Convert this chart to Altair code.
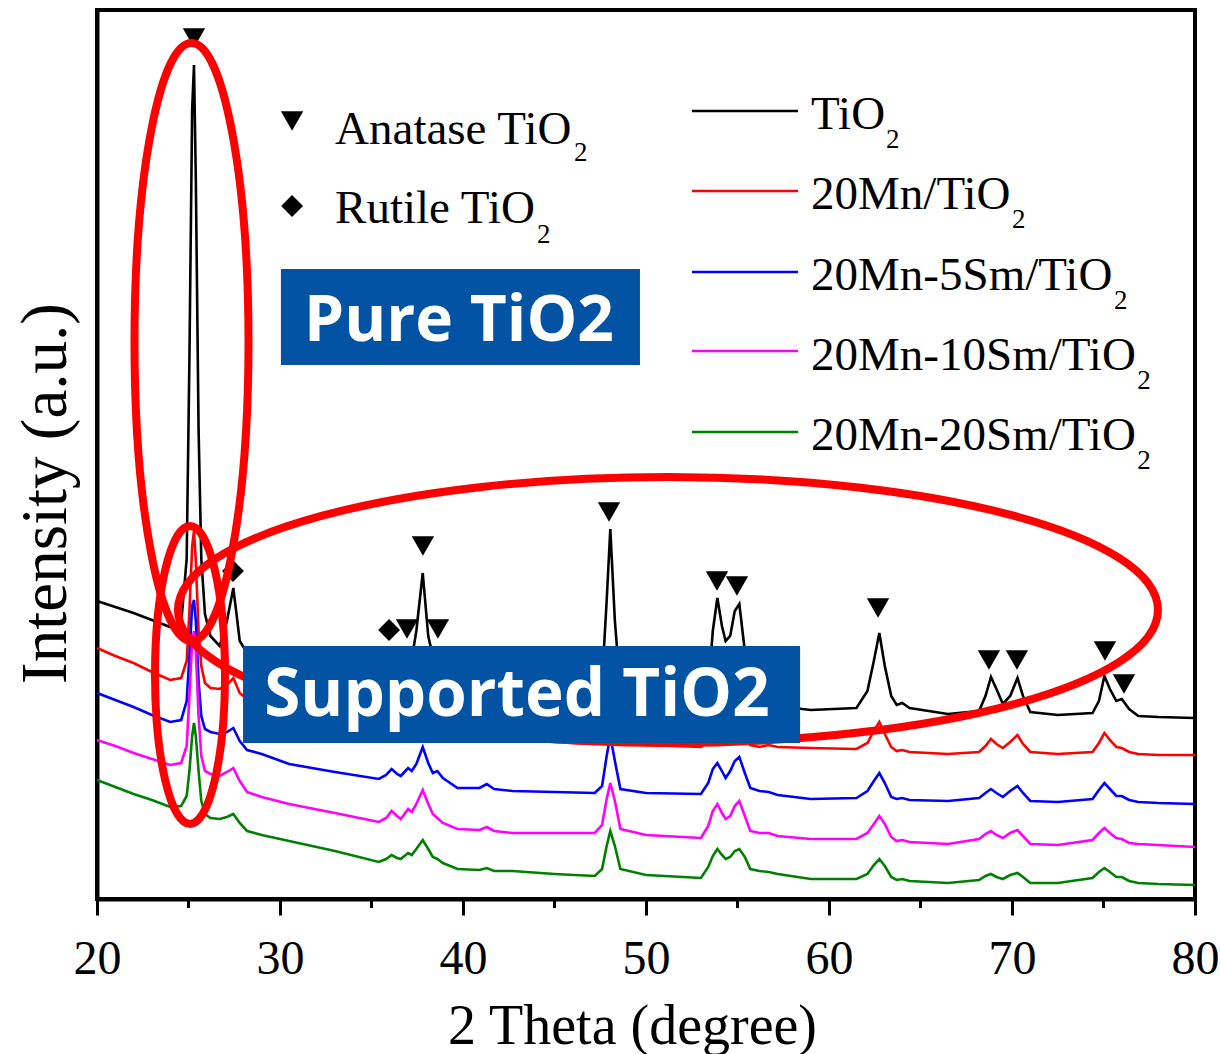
import altair as alt
import pandas as pd

# ---------------- data ----------------
two_theta = [20.0, 21.0, 22.0, 23.0, 24.0, 24.6, 24.9, 25.05, 25.2, 25.3,
             25.4, 25.55, 25.7, 25.9, 26.2, 26.7, 27.1, 27.45, 27.8, 28.2,
             29.0, 30.5, 33.0, 35.4, 35.8, 36.1, 36.4, 36.6, 36.8, 37.0,
             37.2, 37.45, 37.8, 38.1, 38.35, 38.6, 38.9, 39.7, 40.9, 41.3,
             41.7, 42.7, 45.0, 47.2, 47.6, 47.85, 48.05, 48.3, 48.6, 50.0,
             53.0, 53.4, 53.65, 53.9, 54.15, 54.35, 54.6, 54.85, 55.1, 55.4,
             55.7, 56.2, 56.7, 57.2, 59.0, 61.5, 62.1, 62.45, 62.75, 63.05,
             63.4, 63.7, 64.0, 64.4, 66.5, 68.2, 68.55, 68.85, 69.15, 69.5,
             69.9, 70.3, 70.6, 71.0, 72.5, 74.4, 74.75, 75.05, 75.35, 75.7,
             76.0, 76.4, 76.9, 78.0, 80.0]

i_tio2 = [298, 292, 286, 279, 272, 276, 340, 540, 790, 834,
          720, 470, 340, 285, 263, 253, 278, 311, 258, 246,
          241, 235, 230, 226, 230, 240, 233, 232, 238, 244,
          240, 268, 326, 263, 243, 248, 233, 220, 212, 215,
          211, 208, 205, 203, 218, 298, 370, 278, 208, 199,
          196, 208, 268, 301, 273, 258, 263, 288, 295, 248,
          203, 196, 198, 193, 189, 191, 208, 238, 266, 233,
          203, 194, 196, 191, 185, 188, 203, 222, 210, 195,
          203, 221, 203, 187, 184, 186, 198, 223, 210, 198,
          200, 190, 183, 182, 181]

i_20mn = [251, 243, 236, 227, 219, 221, 238, 288, 353, 368,
          338, 268, 233, 216, 211, 210, 214, 221, 206, 200,
          196, 190, 181, 173, 176, 180, 176, 175, 179, 182,
          179, 193, 216, 188, 176, 176, 172, 168, 164, 167,
          163, 160, 157, 155, 163, 193, 208, 180, 158, 154,
          152, 158, 168, 174, 168, 163, 167, 174, 176, 163,
          154, 152, 154, 152, 151, 150, 156, 168, 177, 165,
          152, 148, 149, 147, 145, 147, 153, 160, 155, 151,
          157, 164, 155, 147, 145, 147, 156, 166, 159, 152,
          151, 147, 145, 144, 144]

i_5sm = [206, 199, 192, 184, 177, 179, 198, 243, 293, 299,
         278, 218, 183, 170, 167, 165, 167, 171, 158, 149,
         145, 135, 127, 120, 124, 130, 125, 123, 127, 131,
         128, 135, 152, 136, 126, 128, 121, 111, 111, 115,
         110, 108, 107, 106, 113, 143, 163, 138, 110, 106,
         105, 116, 130, 136, 128, 121, 128, 138, 142, 126,
         111, 108, 107, 104, 100, 101, 108, 118, 126, 116,
         102, 100, 101, 99, 98, 101, 106, 110, 106, 102,
         108, 113, 106, 98, 97, 100, 109, 116, 110, 103,
         103, 99, 97, 96, 95]

i_10sm = [159, 153, 146, 140, 134, 136, 153, 203, 258, 268,
          248, 183, 143, 128, 125, 123, 127, 131, 118, 107,
          102, 95, 86, 77, 81, 88, 83, 80, 85, 90,
          87, 95, 109, 95, 85, 81, 76, 70, 69, 72,
          68, 66, 66, 66, 74, 100, 116, 98, 70, 64,
          61, 73, 88, 95, 86, 80, 83, 93, 98, 83,
          68, 66, 66, 63, 60, 60, 66, 75, 83, 75,
          62, 58, 59, 57, 55, 60, 65, 68, 64, 61,
          66, 69, 63, 55, 54, 59, 66, 71, 66, 61,
          60, 56, 55, 54, 52]

i_20sm = [119, 112, 105, 99, 92, 93, 103, 128, 163, 176,
          163, 128, 98, 85, 81, 80, 82, 85, 76, 68,
          64, 58, 48, 37, 40, 44, 41, 40, 43, 46,
          44, 50, 59, 50, 42, 40, 36, 30, 29, 31,
          28, 28, 25, 23, 30, 53, 68, 53, 30, 24,
          21, 32, 43, 50, 44, 40, 42, 48, 50, 42,
          30, 28, 27, 25, 20, 20, 25, 34, 40, 33,
          22, 19, 20, 18, 16, 19, 23, 25, 22, 20,
          24, 26, 22, 16, 16, 21, 27, 31, 27, 22,
          22, 18, 16, 15, 14]

series_names = ["TiO2", "20Mn/TiO2", "20Mn-5Sm/TiO2", "20Mn-10Sm/TiO2", "20Mn-20Sm/TiO2"]
series_colors = ["#000000", "#FF0000", "#0000FF", "#FF00FF", "#008000"]
series_values = [i_tio2, i_20mn, i_5sm, i_10sm, i_20sm]

# peak markers (2theta, intensity where the symbol sits)
anatase_2theta = [25.3, 36.94, 37.81, 38.63, 47.98, 53.88, 54.97, 62.68, 68.74, 70.27, 75.08, 76.12]
anatase_mark_i = [861, 270, 353, 270, 387, 318, 313, 291, 239, 239, 248, 215]
rutile_2theta = [27.43, 35.96]
rutile_mark_i = [328, 269]

x_ticks = [20, 30, 40, 50, 60, 70, 80]
x_minor = [25, 35, 45, 55, 65, 75]

# ---------------- chart ----------------
W, H = 1098, 889
SERIF = "Liberation Serif"
xs = alt.Scale(domain=[20, 80], nice=False, zero=False)
ys = alt.Scale(domain=[0, 889], nice=False, zero=False)
cs = alt.Scale(domain=series_names, range=series_colors)

rows = []
for name, vals in zip(series_names, series_values):
    assert len(vals) == len(two_theta)
    for t, v in zip(two_theta, vals):
        rows.append({"sample": name, "two_theta": t, "intensity": v})
df = pd.DataFrame(rows)

x_axis = alt.Axis(values=x_ticks, format="d", grid=False, labelFont=SERIF, labelFontSize=48,
                  labelColor="black", labelBaseline="alphabetic", labelPadding=58, labelFlush=False,
                  tickSize=16, tickWidth=3, tickColor="black", domainWidth=4, domainColor="black",
                  titleFont=SERIF, titleFontSize=56, titleFontWeight="normal", titleColor="black",
                  titleX=535, titleY=144, titleBaseline="alphabetic", titleAlign="center")
y_axis = alt.Axis(labels=False, ticks=False, grid=False, domainWidth=4, domainColor="black",
                  titleFont=SERIF, titleFontSize=65, titleFontWeight="normal", titleColor="black",
                  titleAngle=270, titleX=-32, titleY=483, titleBaseline="alphabetic", titleAlign="center")

lines = alt.Chart(df).mark_line(strokeWidth=2.6).encode(
    x=alt.X("two_theta:Q", scale=xs, axis=x_axis, title="2 Theta (degree)"),
    y=alt.Y("intensity:Q", scale=ys, axis=y_axis, title="Intensity (a.u.)"),
    color=alt.Color("sample:N", scale=cs, legend=None),
    order=alt.Order("two_theta:Q"),
)

minor = alt.Chart(pd.DataFrame({"v": x_minor})).mark_rule(color="black", strokeWidth=3).encode(
    x=alt.X("v:Q", scale=xs), y=alt.value(H), y2=alt.value(H + 9))

anatase = alt.Chart(pd.DataFrame({"t": anatase_2theta, "i": anatase_mark_i})).mark_point(
    shape="triangle-down", filled=True, size=500, color="black", opacity=1).encode(
    x=alt.X("t:Q", scale=xs), y=alt.Y("i:Q", scale=ys))
rutile = alt.Chart(pd.DataFrame({"t": rutile_2theta, "i": rutile_mark_i})).mark_point(
    shape="diamond", filled=True, size=480, color="black", opacity=1).encode(
    x=alt.X("t:Q", scale=xs), y=alt.Y("i:Q", scale=ys))


def ellipse_path(r):
    k = 0.5523
    kr = k * r
    return (f"M 1 0 C 1 {kr:.4f} {k} {r:.4f} 0 {r:.4f} "
            f"C {-k} {r:.4f} -1 {kr:.4f} -1 0 "
            f"C -1 {-kr:.4f} {-k} {-r:.4f} 0 {-r:.4f} "
            f"C {k} {-r:.4f} 1 {-kr:.4f} 1 0 Z")


def ellipse(cx, cy, rx_px, ry_px):
    return alt.Chart(pd.DataFrame({"t": [cx], "i": [cy]})).mark_point(
        shape=ellipse_path(ry_px / rx_px), size=(2 * rx_px) ** 2, filled=False,
        stroke="#FF0000", strokeWidth=8, opacity=1).encode(
        x=alt.X("t:Q", scale=xs), y=alt.Y("i:Q", scale=ys))


ell_pure = ellipse(25.164, 557, 57, 299)
ell_small = ellipse(25.082, 224, 35, 149)
ell_supp = ellipse(51.20, 289, 490, 133)

BOX = "#0353A4"
boxes = alt.Chart(pd.DataFrame({
    "x1": [30.05, 27.98], "x2": [49.67, 58.42], "y1": [630, 253], "y2": [534, 156]})).mark_rect(
    color=BOX, opacity=1).encode(
    x=alt.X("x1:Q", scale=xs), x2="x2:Q", y=alt.Y("y1:Q", scale=ys), y2="y2:Q")
box_text = alt.Chart(pd.DataFrame({
    "t": [39.78, 42.95], "i": [558, 183], "txt": ["Pure TiO2", "Supported TiO2"],
    "fs": [64, 65.5]})).mark_text(
    font="Open Sans", fontWeight="bold", color="white", align="center",
    baseline="alphabetic").encode(
    x=alt.X("t:Q", scale=xs), y=alt.Y("i:Q", scale=ys), text="txt:N",
    size=alt.Size("fs:Q", scale=None, legend=None))

# legend for the series (drawn by hand)
leg_df = pd.DataFrame({
    "sample": series_names,
    "main": [n[:-1] for n in series_names],
    "yl": [788, 708, 627, 548, 467],
    "yt": [770, 690, 609, 529, 449],
    "ys": [751, 671, 590, 510, 430],
    "xs": [63.11, 70.0, 75.57, 76.85, 76.85],
})
leg_lines = alt.Chart(leg_df).mark_rule(strokeWidth=2.6).encode(
    x=alt.datum(52.51, scale=xs), x2=alt.datum(58.31),
    y=alt.Y("yl:Q", scale=ys), color=alt.Color("sample:N", scale=cs, legend=None))
leg_text = alt.Chart(leg_df).mark_text(font=SERIF, fontSize=47, align="left", baseline="alphabetic",
                                       color="black").encode(
    x=alt.datum(59.02, scale=xs), y=alt.Y("yt:Q", scale=ys), text="main:N")
leg_sub = alt.Chart(leg_df).mark_text(font=SERIF, fontSize=27, align="left", baseline="alphabetic",
                                      color="black").encode(
    x=alt.X("xs:Q", scale=xs), y=alt.Y("ys:Q", scale=ys), text=alt.value("2"))

# legend for the phase symbols
sym_tri = alt.Chart(pd.DataFrame({"t": [30.66], "i": [778]})).mark_point(
    shape="triangle-down", filled=True, size=500, color="black", opacity=1).encode(
    x=alt.X("t:Q", scale=xs), y=alt.Y("i:Q", scale=ys))
sym_dia = alt.Chart(pd.DataFrame({"t": [30.66], "i": [693]})).mark_point(
    shape="diamond", filled=True, size=480, color="black", opacity=1).encode(
    x=alt.X("t:Q", scale=xs), y=alt.Y("i:Q", scale=ys))
sym_text = alt.Chart(pd.DataFrame({"t": [33.01, 33.01], "i": [755, 676],
                                   "txt": ["Anatase TiO", "Rutile TiO"]})).mark_text(
    font=SERIF, fontSize=47, align="left", baseline="alphabetic", color="black").encode(
    x=alt.X("t:Q", scale=xs), y=alt.Y("i:Q", scale=ys), text="txt:N")
sym_sub = alt.Chart(pd.DataFrame({"t": [46.07, 44.04], "i": [738, 656]})).mark_text(
    font=SERIF, fontSize=27, align="left", baseline="alphabetic", color="black").encode(
    x=alt.X("t:Q", scale=xs), y=alt.Y("i:Q", scale=ys), text=alt.value("2"))

chart = alt.layer(
    lines, minor, anatase, rutile, ell_pure, ell_small, ell_supp, boxes, box_text,
    leg_lines, leg_text, leg_sub, sym_tri, sym_dia, sym_text, sym_sub,
).properties(
    width=W, height=H,
    autosize=alt.AutoSizeParams(type="none"),
    padding={"left": 97, "top": 10, "right": 25, "bottom": 155},
    background="white",
).configure_view(stroke="black", strokeWidth=4)

chart.save("out.html", embed_options={"renderer": "svg", "actions": False})
